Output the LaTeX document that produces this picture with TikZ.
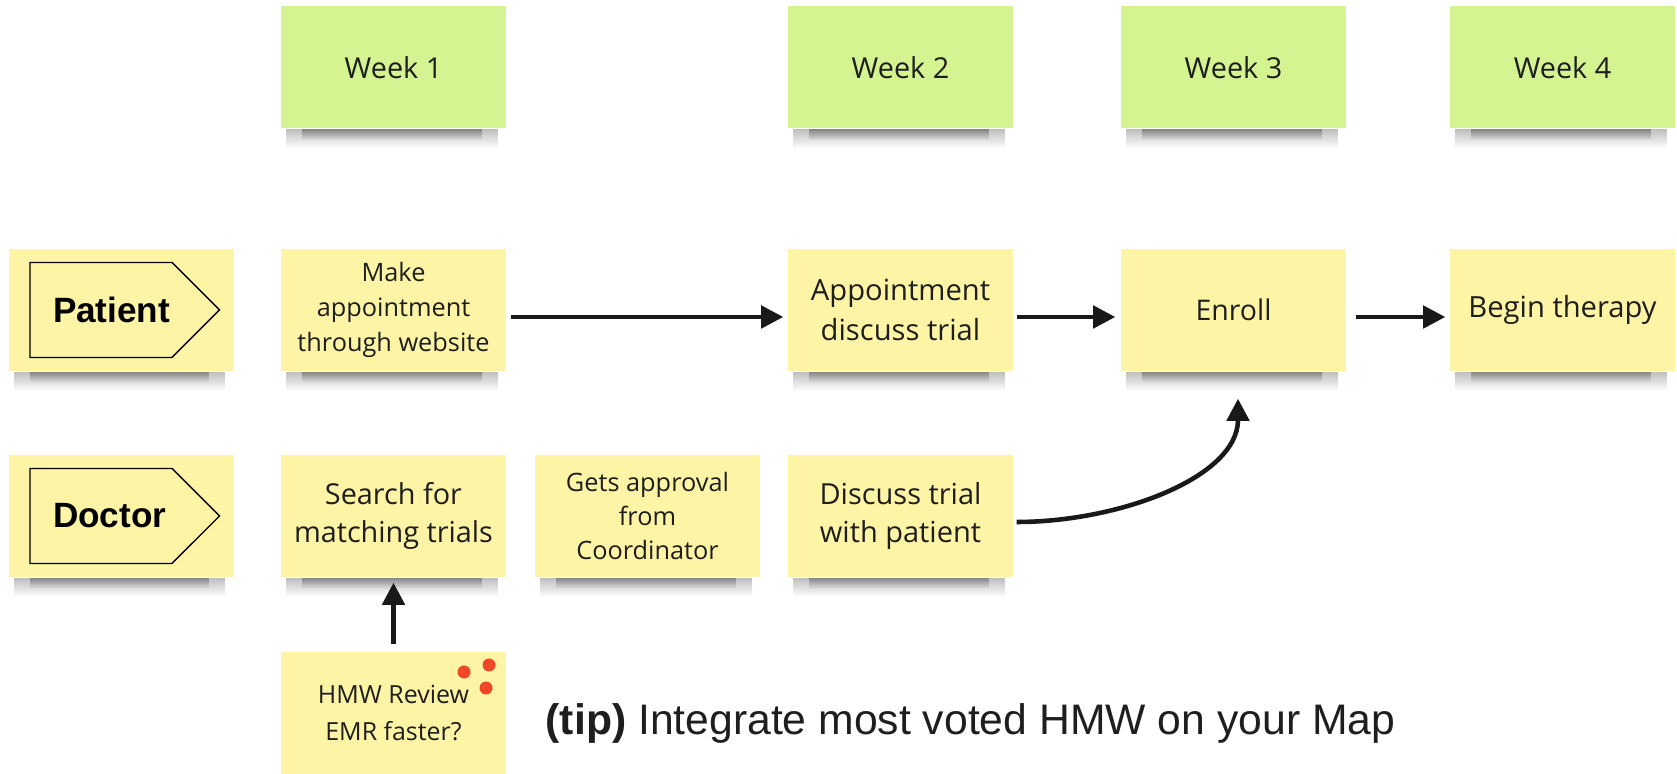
\documentclass[tikz,border=0pt]{standalone}
\usepackage{fontspec}
\setmainfont{Open Sans}
\newfontfamily\tagfont{Liberation Sans}
\usetikzlibrary{arrows.meta,shapes.symbols,fadings}
\definecolor{stickyyellow}{HTML}{FDF4A6}
\definecolor{stickygreen}{HTML}{D4F491}
\definecolor{votered}{HTML}{F24726}
\definecolor{inktext}{HTML}{1E1E1E}
\tikzfading[name=shadowfade, top color=transparent!15, middle color=transparent!75, bottom color=transparent!100]

\begin{document}
\begin{tikzpicture}[
	sticky/.style={fill=stickyyellow, minimum width=2.25cm, minimum height=1.22cm, inner sep=0pt, align=center, text=inktext, font=\fontsize{8.2pt}{11pt}\selectfont},
	week/.style={sticky, fill=stickygreen},
	lane/.style={signal, signal to=east, draw=black, line width=0.4pt, inner sep=0pt, text width=1.42cm, minimum height=0.95cm, align=left, execute at begin node={\hspace*{0.23cm}}, font=\tagfont\fontsize{10pt}{12pt}\selectfont\bfseries},
	flow/.style={-{Triangle[length=6.3pt,width=6.3pt]}, line width=1.3pt, black!90},
	vote/.style={circle, fill=votered, inner sep=0pt, minimum size=0.13cm}
]
	\useasboundingbox (0,0) rectangle (16.77,7.74);

	\foreach \n/\x in {1/3.935, 2/9.005, 3/12.335, 4/15.625}
		\node[week] (week\n) at (\x,7.065) {Week \n};

	\node[sticky] (patient) at (1.21,4.64) {};
	\node[lane] (patienttag) at (1.01,4.64) {Patient};
	\node[sticky, font=\fontsize{7.2pt}{9.9pt}\selectfont] (website) at (3.935,4.64) {Make\\appointment\\through website};
	\node[sticky, font=\fontsize{8.3pt}{11.3pt}\selectfont] (discuss) at (9.005,4.64) {Appointment\\discuss trial};
	\node[sticky, font=\fontsize{8.1pt}{11pt}\selectfont] (enroll) at (12.335,4.64) {Enroll};
	\node[sticky, font=\fontsize{8.3pt}{11pt}\selectfont] (therapy) at (15.625,4.64) {Begin therapy};

	\node[sticky] (doctor) at (1.21,2.58) {};
	\node[lane] (doctortag) at (1.01,2.58) {Doctor};
	\node[sticky] (search) at (3.935,2.58) {Search for\\matching trials};
	\node[sticky, font=\fontsize{7.2pt}{9.7pt}\selectfont] (approval) at (6.475,2.58) {Gets approval\\from\\Coordinator};
	\node[sticky, font=\fontsize{8.25pt}{11pt}\selectfont] (talk) at (9.005,2.58) {Discuss trial\\with patient};

	\node[sticky, font=\fontsize{7.1pt}{10.3pt}\selectfont] (hmw) at (3.935,0.61) {HMW Review\\EMR faster?};
	\foreach \dx/\dy [count=\i] in {0.705/0.41, 0.955/0.48, 0.925/0.25}
		\node[vote] (vote\i) at ([xshift=\dx cm, yshift=\dy cm]hmw.center) {};

	\node[anchor=base west, inner sep=0pt, text=inktext, font=\tagfont\fontsize{12.15pt}{14pt}\selectfont] (tip) at (5.45,0.39) {\textbf{(tip)} Integrate most voted HMW on your Map};

	\foreach \n in {week1,week2,week3,week4,patient,website,discuss,enroll,therapy,doctor,search,approval,talk}{
		\fill[black, opacity=0.3, path fading=shadowfade] ([xshift=0.06cm]\n.south west) rectangle ([xshift=-0.09cm,yshift=-0.19cm]\n.south east);
		\fill[black, opacity=0.35, path fading=shadowfade] ([xshift=0.22cm]\n.south west) rectangle ([xshift=-0.25cm,yshift=-0.11cm]\n.south east);
	}

	\draw[flow, shorten <=0.04cm, shorten >=0.04cm] ([yshift=-0.07cm]website.east) -- ([yshift=-0.07cm]discuss.west);
	\draw[flow, shorten <=0.03cm, shorten >=0.05cm] ([yshift=-0.07cm]discuss.east) -- ([yshift=-0.07cm]enroll.west);
	\draw[flow, shorten <=0.09cm, shorten >=0.04cm] ([yshift=-0.07cm]enroll.east) -- ([yshift=-0.07cm]therapy.west);
	\draw[flow, shorten <=0.03cm, shorten >=0.27cm] ([yshift=-0.06cm]talk.east) to[out=0, in=-90] ([xshift=0.045cm]enroll.south);
	\draw[flow, shorten <=0.07cm, shorten >=0.05cm] (hmw.north) -- (search.south);
\end{tikzpicture}
\end{document}
